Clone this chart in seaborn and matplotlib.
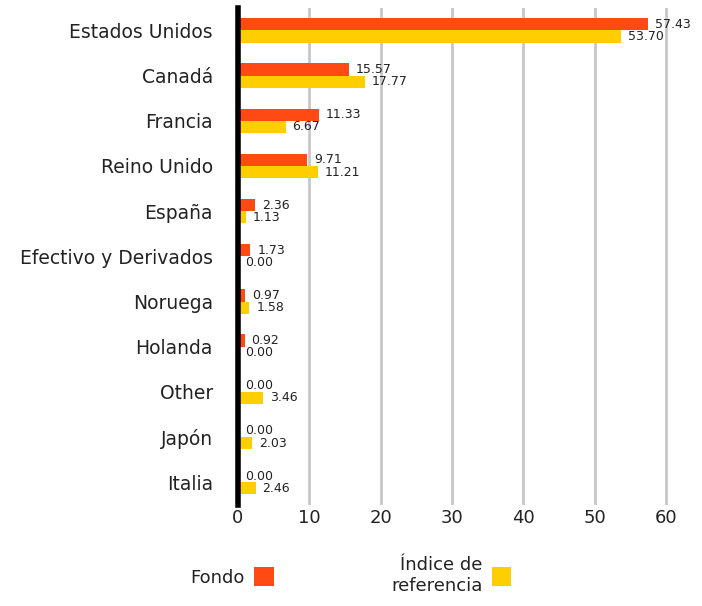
import matplotlib
matplotlib.use("Agg")
import matplotlib.pyplot as plt
import pandas as pd
import seaborn as sns
from matplotlib.patches import Patch

# data
countries = ["Estados Unidos", "Canadá", "Francia", "Reino Unido", "España",
             "Efectivo y Derivados", "Noruega", "Holanda", "Other", "Japón", "Italia"]
fondo = [57.43, 15.57, 11.33, 9.71, 2.36, 1.73, 0.97, 0.92, 0.00, 0.00, 0.00]
indice = [53.70, 17.77, 6.67, 11.21, 1.13, 0.00, 1.58, 0.00, 3.46, 2.03, 2.46]
series_names = ["Fondo", "Índice de\nreferencia"]
colors = ["#FF4A14", "#FFCE00"]
x_ticks = [0, 10, 20, 30, 40, 50, 60]

df = pd.DataFrame({
    "country": countries * 2,
    "value": fondo + indice,
    "serie": [series_names[0]] * len(countries) + [series_names[1]] * len(countries),
})

sns.set_style("white")
plt.rcParams["font.family"] = ["DejaVu Sans"]

fig = plt.figure(figsize=(7.02, 6.06), dpi=100)
ax = fig.add_axes([0.339, 0.167, 0.63, 0.82])

sns.barplot(data=df, y="country", x="value", hue="serie", orient="h",
            palette=colors, width=0.54, saturation=1, linewidth=0,
            ax=ax, legend=False)

# value labels at the end of each bar
for cont in ax.containers:
    ax.bar_label(cont, fmt="%.2f", padding=5, fontsize=9, color="#222222")

ax.set_xlim(0, 62)
ax.set_xticks(x_ticks)
ax.set_xlabel("")
ax.set_ylabel("")
ax.tick_params(axis="x", labelsize=13, length=0, pad=3, colors="#222222")
ax.tick_params(axis="y", labelsize=13.5, length=0, pad=18, colors="#222222")

ax.grid(axis="x", color="#c8c8c8", linewidth=2)
ax.set_axisbelow(True)
for s in ["top", "right", "bottom"]:
    ax.spines[s].set_visible(False)
ax.spines["left"].set_linewidth(4)
ax.spines["left"].set_color("black")

handles = [Patch(facecolor=c, edgecolor="none") for c in colors]
leg = fig.legend(handles, series_names, loc="center", bbox_to_anchor=(0.5, 0.05),
                 ncol=2, frameon=False, markerfirst=False, fontsize=13,
                 handlelength=1.1, handleheight=1.3, handletextpad=0.5,
                 columnspacing=6.5, labelcolor="#222222")
for t in leg.get_texts():
    t.set_multialignment("right")

fig.savefig("out.png", dpi=100)
